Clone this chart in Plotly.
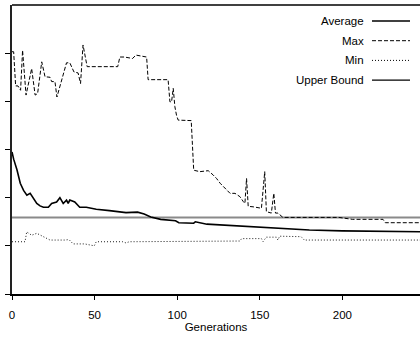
import plotly.graph_objects as go

# ---- data ----
avg_x = [0, 1, 3, 5, 7, 9, 11, 13, 15, 17, 19, 22, 24, 27, 29, 31, 33, 34, 35, 38, 41, 45, 51, 59,
         65, 69, 76, 80, 84, 90, 99, 101, 110, 111, 118, 128, 138, 148, 161, 180, 200, 220, 250]
avg_y = [2.95, 2.8, 2.58, 2.3, 2.15, 2.05, 2.09, 1.99, 1.88, 1.83, 1.80, 1.80, 1.88, 1.91, 2.0, 1.88,
         1.95, 1.88, 1.95, 1.91, 1.80, 1.80, 1.76, 1.73, 1.71, 1.69, 1.70, 1.66, 1.60, 1.55, 1.52,
         1.48, 1.47, 1.50, 1.45, 1.43, 1.41, 1.38, 1.36, 1.33, 1.31, 1.30, 1.29]

max_x = [0, 1, 2.2, 3.6, 5.2, 6.4, 8.5, 11.9, 14, 15.5, 18, 20, 23, 24, 26, 27.2, 29.5, 33, 35, 37.5,
         40, 41.5, 43, 45.5, 64, 65.3, 68, 73, 75, 79.4, 81.5, 82.4, 94.5, 95.6, 96.6, 97.6, 98.6,
         99.6, 100.6, 108.5, 110, 113.7, 118.8, 121.8, 123.8, 126, 132, 135, 138, 140, 141, 142, 143,
         146, 151, 153, 154, 157, 158.5, 159.5, 161, 164, 198, 206, 224.6, 226, 250]
max_y = [5.03, 5.03, 4.32, 4.32, 4.23, 5.06, 4.13, 4.68, 4.13, 4.16, 4.82, 4.51, 4.5, 4.41, 4.41, 4.09,
         4.37, 4.80, 4.80, 4.61, 4.59, 4.37, 5.17, 4.72, 4.72, 4.92, 4.92, 4.89, 4.96, 4.94, 4.92,
         4.45, 4.45, 3.99, 3.99, 4.27, 3.89, 3.71, 3.61, 3.60, 2.57, 2.54, 2.56, 2.47, 2.40, 2.30,
         2.09, 2.09, 2.02, 1.92, 1.88, 2.40, 1.82, 1.81, 1.78, 2.54, 1.71, 1.68, 2.09, 1.68, 1.68,
         1.59, 1.59, 1.55, 1.55, 1.48, 1.48]

min_x = [0, 7.9, 8.9, 11.9, 15, 19, 23, 32, 34.5, 37, 44, 49.8, 51, 67, 69, 71, 138, 139, 151, 152,
         154, 160, 161, 162, 175, 177, 250]
min_y = [1.085, 1.085, 1.29, 1.22, 1.26, 1.19, 1.12, 1.12, 1.13, 1.04, 1.04, 1.0, 1.085, 1.085, 1.06,
         1.085, 1.10, 1.15, 1.15, 1.09, 1.18, 1.18, 1.12, 1.20, 1.19, 1.12, 1.12]

ub_x = [0, 250]
ub_y = [1.59, 1.59]

x_ticks = [0, 50, 100, 150, 200]
y_ticks = [0, 1, 2, 3, 4, 5]

legend_names = ["Average", "Max", "Min", "Upper Bound"]
legend_dash = ["solid", "4px,2px", "1px,2px", "solid"]

FONT = "Liberation Sans, Arial, Helvetica, sans-serif"

fig = go.Figure()
fig.add_trace(go.Scatter(x=ub_x, y=ub_y, mode="lines", line=dict(color="#8a8a8a", width=2),
                         name="Upper Bound", showlegend=False))
fig.add_trace(go.Scatter(x=min_x, y=min_y, mode="lines", line=dict(color="black", width=0.9, dash="1px,2px"),
                         name="Min", showlegend=False))
fig.add_trace(go.Scatter(x=max_x, y=max_y, mode="lines", line=dict(color="black", width=1, dash="4px,2px"),
                         name="Max", showlegend=False))
fig.add_trace(go.Scatter(x=avg_x, y=avg_y, mode="lines", line=dict(color="black", width=1.6),
                         name="Average", showlegend=False))

# manual legend (text right-aligned, sample line to the right)
leg_y0 = 21
for i, (nm, ds) in enumerate(zip(legend_names, legend_dash)):
    ypx = leg_y0 + i * 19.7
    yp = 1 - (ypx - 5) / 289.0
    fig.add_annotation(x=(366 - 12) / 408.0, y=yp, xref="paper", yref="paper", text=nm,
                       showarrow=False, xanchor="right", yanchor="middle",
                       font=dict(family=FONT, size=11.5, color="black"))
    fig.add_shape(type="line", xref="paper", yref="paper",
                  x0=(372 - 12) / 408.0, x1=(410 - 12) / 408.0, y0=yp, y1=yp,
                  line=dict(color="black", width=1.4 if ds == "solid" else 1, dash=ds))

# top border
fig.add_shape(type="line", xref="paper", yref="paper", x0=0, x1=1, y0=1, y1=1,
              line=dict(color="black", width=1.5))

fig.update_layout(
    width=420, height=338,
    margin=dict(l=12, r=0, t=5, b=44),
    paper_bgcolor="white", plot_bgcolor="white",
    font=dict(family=FONT, size=11.5, color="black"),
    showlegend=False,
    xaxis=dict(range=[0, 247], tickvals=x_ticks, ticks="outside", ticklen=4, tickcolor="black",
               ticklabelstandoff=5,
               showline=True, linecolor="black", linewidth=1.5, showgrid=False, zeroline=False,
               title=dict(text="Generations", standoff=3, font=dict(size=11.5)),
               tickfont=dict(size=11.5), automargin=False),
    yaxis=dict(range=[0, 6], tickvals=y_ticks, ticks="outside", ticklen=5, tickcolor="black",
               showticklabels=False, showline=True, linecolor="#222", linewidth=2,
               showgrid=False, zeroline=False, automargin=False),
)

fig.write_html("out.html")
